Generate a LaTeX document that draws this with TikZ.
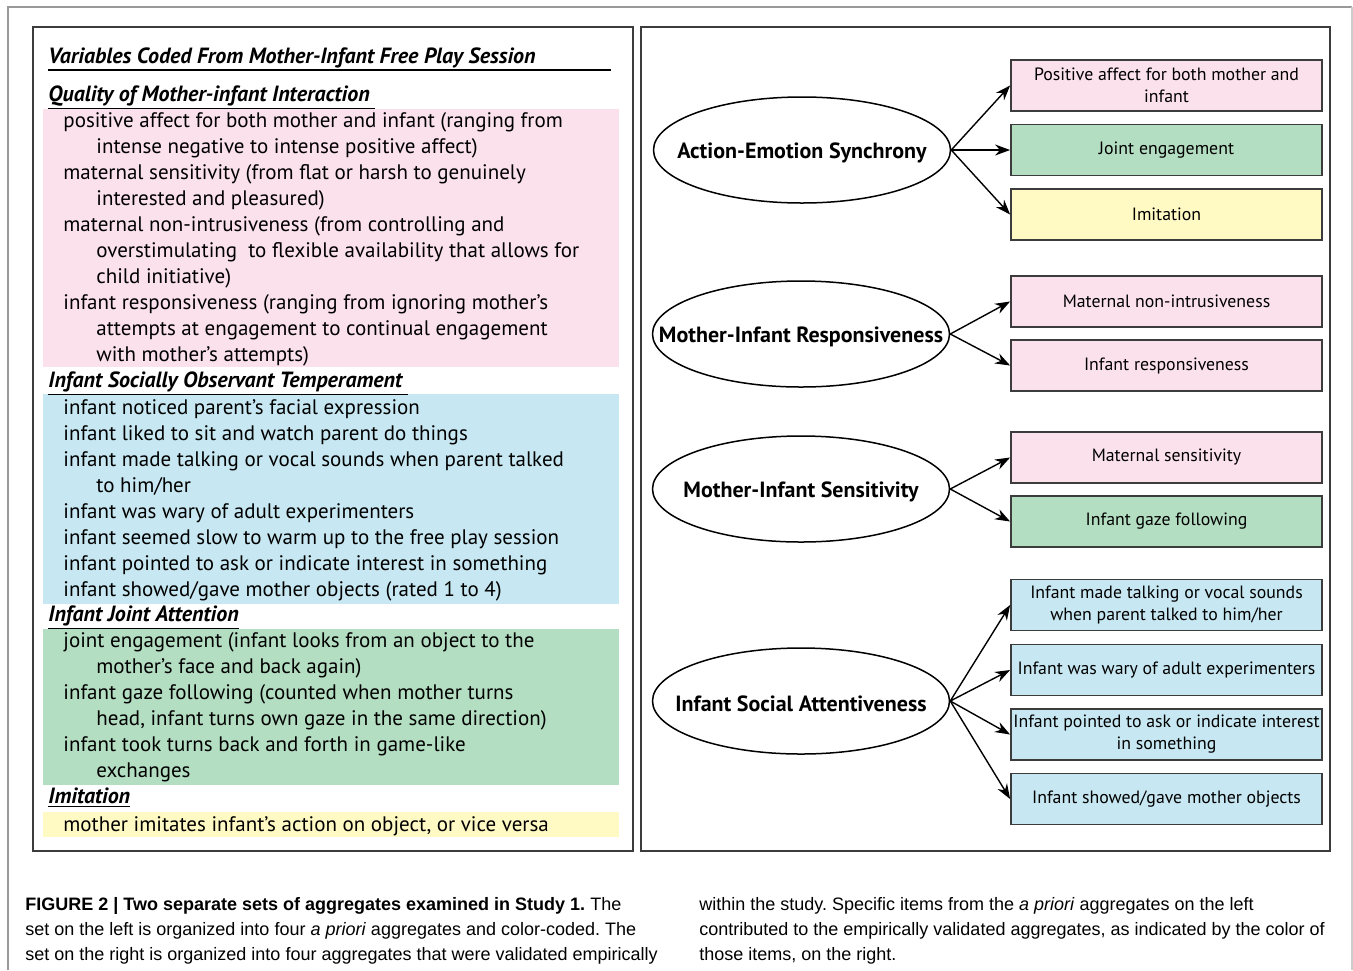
\documentclass[tikz,border=0pt]{standalone}
\usepackage{fontspec}
\setmainfont{PT Sans}
\newfontfamily\capfont{Liberation Sans}
\usetikzlibrary{shapes.geometric,arrows.meta}
\definecolor{pinkbg}{RGB}{251,225,236}
\definecolor{bluebg}{RGB}{199,232,242}
\definecolor{greenbg}{RGB}{180,222,194}
\definecolor{yellowbg}{RGB}{255,249,196}
\definecolor{frame}{RGB}{60,60,60}
\frenchspacing
\begin{document}
\begin{tikzpicture}[x=0.5pt,y=-0.5pt,
  lt/.style={anchor=mid west,inner sep=0pt,font=\fontsize{10.5}{12}\selectfont},
  hd/.style={anchor=base west,inner sep=0pt,font=\fontsize{11}{12}\selectfont\bfseries\itshape},
  ell/.style={ellipse,draw=black,line width=0.75pt,minimum width=148.5pt,minimum height=53pt,inner sep=0pt},
  elab/.style={font=\fontsize{11}{12}\selectfont\bfseries,yshift=-1.2pt},
  bx/.style={draw=frame,line width=0.9pt,minimum width=155.5pt,minimum height=25.5pt,inner sep=1pt,align=center,font=\fontsize{8.9}{11}\selectfont},
  arr/.style={line width=0.7pt,-{Stealth[length=7.5pt,width=5.5pt]}},
  cp/.style={anchor=base west,inner sep=0pt,font=\capfont\fontsize{9}{10}\selectfont}]
\useasboundingbox (0,0) rectangle (1353,970);
\fill[white] (0,0) rectangle (1353,970);
% outer frame
\draw[gray!80,line width=0.8pt] (8,970) -- (8,7) -- (1352,7);
\draw[gray!40,line width=0.6pt] (1352,7) -- (1352,970);
% panels
\draw[frame,line width=1pt] (33,27) rectangle (633,851);
\draw[frame,line width=1pt] (641,27) rectangle (1330,851);
% colored backgrounds
\fill[pinkbg] (43,109) rectangle (619,367);
\fill[bluebg] (43,394) rectangle (619,604);
\fill[greenbg] (43,629) rectangle (619,785);
\fill[yellowbg] (43,812) rectangle (619,837);
% title
\node[hd] (title) at (48,63) {Variables Coded From Mother-Infant Free Play Session};
\draw[black,line width=1.3pt] (48,70) -- (611,70);
% quality
\node[hd] (h1) at (48,101) {\underline{Quality of Mother-infant Interaction\ }};
\node[lt] (p1) at (63,122) {positive affect for both mother and infant (ranging from};
\node[lt] (p2) at (96,148) {intense negative to intense positive affect)};
\node[lt] (p3) at (63,174) {maternal sensitivity (from flat or harsh to genuinely};
\node[lt] (p4) at (96,200) {interested and pleasured)};
\node[lt] (p5) at (63,226) {maternal non-intrusiveness (from controlling and};
\node[lt] (p6) at (96,252) {overstimulating\ \ to flexible availability that allows for};
\node[lt] (p7) at (96,278) {child initiative)};
\node[lt] (p8) at (63,304) {infant responsiveness (ranging from ignoring mother’s};
\node[lt] (p9) at (96,330) {attempts at engagement to continual engagement};
\node[lt] (p10) at (96,356) {with mother’s attempts)};
% temperament
\node[hd] (h2) at (48,387) {\underline{Infant Socially Observant Temperament\ }};
\node[lt] (t1) at (63,409) {infant noticed parent’s facial expression};
\node[lt] (t2) at (63,435) {infant liked to sit and watch parent do things};
\node[lt] (t3) at (63,461) {infant made talking or vocal sounds when parent talked};
\node[lt] (t4) at (96,487) {to him/her};
\node[lt] (t5) at (63,513) {infant was wary of adult experimenters};
\node[lt] (t6) at (63,539) {infant seemed slow to warm up to the free play session};
\node[lt] (t7) at (63,565) {infant pointed to ask or indicate interest in something};
\node[lt] (t8) at (63,591) {infant showed/gave mother objects (rated 1 to 4)};
% joint attention
\node[hd] (h3) at (48,621) {\underline{Infant Joint Attention}};
\node[lt] (j1) at (63,642) {joint engagement (infant looks from an object to the};
\node[lt] (j2) at (96,668) {mother’s face and back again)};
\node[lt] (j3) at (63,694) {infant gaze following (counted when mother turns};
\node[lt] (j4) at (96,720) {head, infant turns own gaze in the same direction)};
\node[lt] (j5) at (63,746) {infant took turns back and forth in game-like};
\node[lt] (j6) at (96,772) {exchanges};
% imitation
\node[hd] (h4) at (48,803) {\underline{Imitation}};
\node[lt] (i1) at (63,826) {mother imitates infant’s action on object, or vice versa};
% right panel: ellipses
\node[ell,label={[elab]center:Action-Emotion Synchrony}] (e1) at (802,150) {};
\node[ell,label={[elab]center:Mother-Infant Responsiveness}] (e2) at (801,334) {};
\node[ell,label={[elab]center:Mother-Infant Sensitivity}] (e3) at (801,489) {};
\node[ell,label={[elab]center:Infant Social Attentiveness}] (e4) at (801,701) {};
% boxes
\node[bx,fill=pinkbg] (b1) at (1166.5,85.5) {Positive affect for both mother and\\infant};
\node[bx,fill=greenbg] (b2) at (1166.5,150) {Joint engagement};
\node[bx,fill=yellowbg] (b3) at (1166.5,214.5) {Imitation};
\node[bx,fill=pinkbg] (b4) at (1166.5,301.5) {Maternal non-intrusiveness};
\node[bx,fill=pinkbg] (b5) at (1166.5,365.5) {Infant responsiveness};
\node[bx,fill=pinkbg] (b6) at (1166.5,457.5) {Maternal sensitivity};
\node[bx,fill=greenbg] (b7) at (1166.5,521.5) {Infant gaze following};
\node[bx,fill=bluebg] (b8) at (1166.5,605) {Infant made talking or vocal sounds\\when parent talked to him/her};
\node[bx,fill=bluebg] (b9) at (1166.5,670) {Infant was wary of adult experimenters};
\node[bx,fill=bluebg] (b10) at (1166.5,734.5) {Infant pointed to ask or indicate interest\\in something};
\node[bx,fill=bluebg] (b11) at (1166.5,799) {Infant showed/gave mother objects};
% arrows
\foreach \b in {b1,b2,b3} \draw[arr] (e1.east) -- (\b.west);
\foreach \b in {b4,b5} \draw[arr] (e2.east) -- (\b.west);
\foreach \b in {b6,b7} \draw[arr] (e3.east) -- (\b.west);
\foreach \b in {b8,b9,b10,b11} \draw[arr] (e4.east) -- (\b.west);
% caption
\node[cp] (c1) at (25,910) {\textbf{FIGURE 2 | Two separate sets of aggregates examined in Study 1.} The};
\node[cp] (c2) at (25,935) {set on the left is organized into four \textit{a priori} aggregates and color-coded. The};
\node[cp] (c3) at (25,960) {set on the right is organized into four aggregates that were validated empirically};
\node[cp] (c4) at (699,910) {within the study. Specific items from the \textit{a priori} aggregates on the left};
\node[cp] (c5) at (699,935) {contributed to the empirically validated aggregates, as indicated by the color of};
\node[cp] (c6) at (699,960) {those items, on the right.};
\end{tikzpicture}
\end{document}
